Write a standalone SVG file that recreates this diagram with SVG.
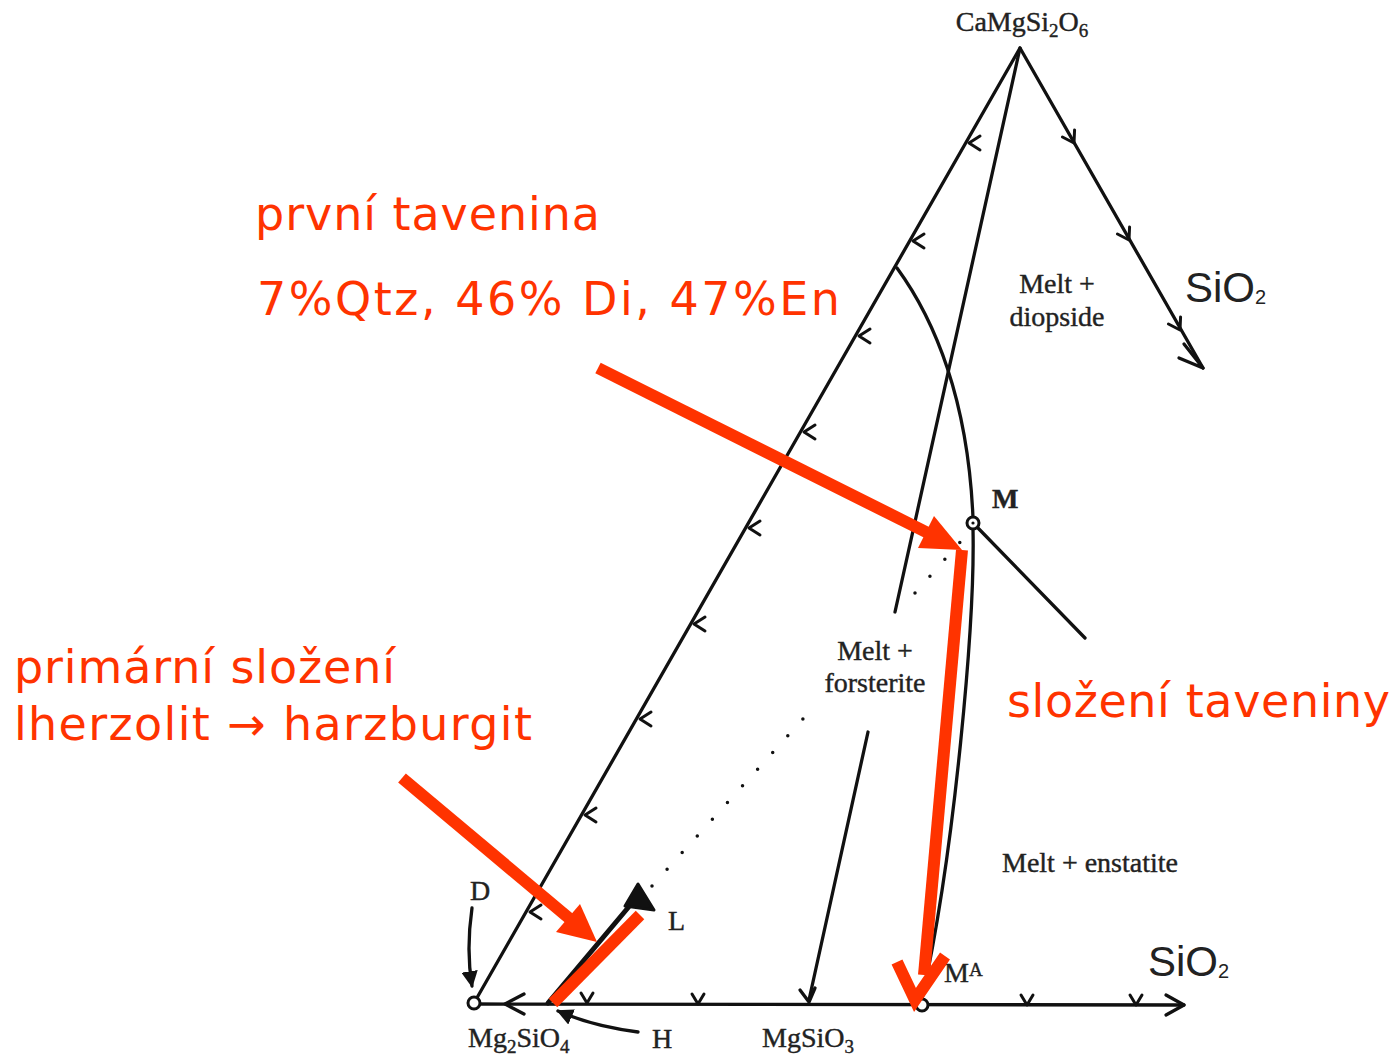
<svg xmlns="http://www.w3.org/2000/svg" width="1395" height="1055" viewBox="0 0 1395 1055">
<style>
.ln{fill:none;stroke:#111;stroke-width:3.3;stroke-linecap:round;stroke-linejoin:round}
.tk{fill:none;stroke:#111;stroke-width:3;stroke-linecap:round;stroke-linejoin:round}
.ser{font-family:"Liberation Serif","DejaVu Serif",serif;fill:#222;font-size:28px;stroke:#222;stroke-width:0.4}
.sans{font-family:"Liberation Sans",Arial,sans-serif;fill:#222;font-size:42px}
.red{font-family:"DejaVu Sans",Verdana,sans-serif;fill:#ff3300;font-size:46px}
.rl{fill:none;stroke:#ff3300;stroke-width:12;stroke-linecap:butt;stroke-linejoin:miter}
</style>
<defs>
<path id="tL" d="M11,-7 L0,0 L11,7"/>
<path id="tV" d="M-6,-10 L0,0 L6,-10"/>
<path id="tR" d="M-11,-7 L0,0 L-11,7"/>
<marker id="ah" viewBox="0 0 10 10" refX="9" refY="5" markerWidth="5" markerHeight="5" orient="auto"><path d="M0,0 L10,5 L0,10 z" fill="#111"/></marker>
</defs>
<rect width="1395" height="1055" fill="#fff"/>
<g id="connectors">
<path class="ln" d="M474,1003 L1020,48 L1203,368"/>
<path class="ln" d="M1184,344 L1203,368 L1179,358"/>
<path class="ln" d="M474,1004 L1184,1005"/>
<path class="ln" d="M1166,995 L1184,1005 L1166,1015"/>
<path class="ln" d="M524,994 L505,1004 L524,1014"/>
<path class="ln" d="M1020,48 L895,612"/>
<path class="ln" d="M868,732 L809,1000"/>
<path class="ln" d="M800,990 L809,1002 L815,988" />
<path class="ln" d="M897,268 C935,320 968,400 973,518"/>
<path class="ln" d="M973,529 C975,620 955,850 922,999"/>
<path class="ln" d="M977,527 L1085,638"/>
<path fill="none" stroke="#111" stroke-width="3.5" stroke-linecap="round" stroke-dasharray="0 22.5" d="M652,886 L812,709"/>
<path fill="none" stroke="#111" stroke-width="3.5" stroke-linecap="round" stroke-dasharray="0 22.5" d="M915,593 L962,540"/>
<path fill="none" stroke="#111" stroke-width="5" stroke-linecap="round" d="M632,903 L548,1003"/>
<path d="M638,884 L625,906 L654,910 z" fill="#111" stroke="#111" stroke-width="3" stroke-linejoin="round"/>
<path class="ln" d="M472,908 Q466,950 472,986" marker-end="url(#ah)" stroke-width="2.2"/>
<path class="ln" d="M638,1032 Q592,1026 558,1011" marker-end="url(#ah)" stroke-width="2.2"/>
<g class="tk">
<use href="#tL" x="969" y="143"/>
<use href="#tL" x="913" y="241"/>
<use href="#tL" x="859" y="336"/>
<use href="#tL" x="804" y="432"/>
<use href="#tL" x="749" y="528"/>
<use href="#tL" x="694" y="624"/>
<use href="#tL" x="640" y="719"/>
<use href="#tL" x="585" y="815"/>
<use href="#tL" x="530" y="912"/>
<use href="#tR" transform="translate(1074,143) rotate(60)"/>
<use href="#tR" transform="translate(1129,240) rotate(60)"/>
<use href="#tR" transform="translate(1180,330) rotate(60)"/>
<use href="#tV" x="587" y="1003"/>
<use href="#tV" x="698" y="1004"/>
<use href="#tV" x="1027" y="1005"/>
<use href="#tV" x="1136" y="1005"/>
</g>
</g>
<g id="node-Mg2SiO4">
<circle cx="474" cy="1003" r="6" fill="#fff" stroke="#111" stroke-width="3"/>
<text class="ser" x="468" y="1047">Mg<tspan font-size="19" dy="6">2</tspan><tspan dy="-6">SiO</tspan><tspan font-size="19" dy="6">4</tspan></text>
</g>
<g id="node-MA">
<circle cx="922" cy="1005" r="6" fill="#fff" stroke="#111" stroke-width="3"/>
<text class="ser" x="944" y="982">M<tspan font-size="19" dy="-6">A</tspan></text>
</g>
<g id="node-M">
<circle cx="973" cy="523" r="6" fill="#fff" stroke="#111" stroke-width="3"/>
<circle cx="973" cy="523" r="1.6" fill="#111"/>
<text class="ser" x="992" y="508" font-weight="bold">M</text>
</g>
<g id="node-apex">
<text class="ser" x="1022" y="31" text-anchor="middle">CaMgSi<tspan font-size="19" dy="6">2</tspan><tspan dy="-6">O</tspan><tspan font-size="19" dy="6">6</tspan></text>
</g>
<g id="labels">
<text class="sans" x="1185" y="302">SiO<tspan font-size="20" dy="2">2</tspan></text>
<text class="sans" x="1148" y="976">SiO<tspan font-size="20" dy="2">2</tspan></text>
<text class="ser" x="1057" y="293" text-anchor="middle">Melt +</text>
<text class="ser" x="1057" y="326" text-anchor="middle">diopside</text>
<text class="ser" x="875" y="660" text-anchor="middle">Melt +</text>
<text class="ser" x="875" y="692" text-anchor="middle">forsterite</text>
<text class="ser" x="1090" y="872" text-anchor="middle">Melt + enstatite</text>
<text class="ser" x="762" y="1047">MgSiO<tspan font-size="19" dy="6">3</tspan></text>
<text class="ser" x="652" y="1048">H</text>
<text class="ser" x="668" y="930">L</text>
<text class="ser" x="470" y="900">D</text>
</g>
<g id="annotations">
<text class="red" x="255" y="230" textLength="345" lengthAdjust="spacing">první tavenina</text>
<text class="red" x="257" y="315" textLength="583" lengthAdjust="spacing">7%Qtz, 46% Di, 47%En</text>
<text class="red" x="14" y="683" textLength="381" lengthAdjust="spacing">primární složení</text>
<text class="red" x="14" y="740" textLength="518" lengthAdjust="spacing">lherzolit → harzburgit</text>
<text class="red" x="1007" y="717" textLength="383" lengthAdjust="spacing">složení taveniny</text>
<path class="rl" d="M598,368 L928,533"/>
<path d="M962,550 L918,548 L934,516 z" fill="#ff3300"/>
<path class="rl" d="M962,550 L924,975"/>
<path class="rl" d="M897,962 L915,1000 L945,956"/>
<path class="rl" d="M402,778 L570,919"/>
<path d="M597,942 L556,932 L580,904 z" fill="#ff3300"/>
<path class="rl" d="M640,915 L553,1003"/>
</g>
</svg>
